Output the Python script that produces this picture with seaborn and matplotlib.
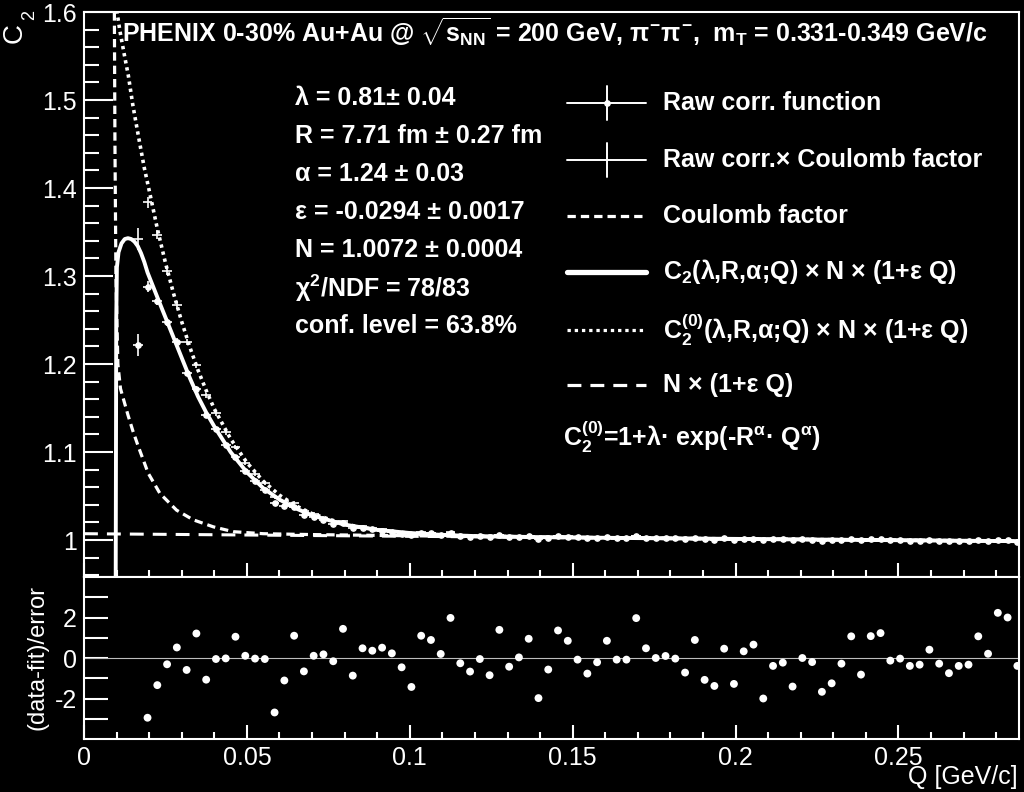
import numpy as np
import pandas as pd
import seaborn as sns
import matplotlib.pyplot as plt
from matplotlib.ticker import MultipleLocator, FixedLocator, FuncFormatter
from matplotlib.lines import Line2D

# bin centres [GeV/c], half bin width
q_bins = [0.0165, 0.0195, 0.0225, 0.0255, 0.0285, 0.0315, 0.0345, 0.0375, 0.0405, 0.0435,
          0.0465, 0.0495, 0.0525, 0.0555, 0.0585, 0.0615, 0.0645, 0.0675, 0.0705, 0.0735,
          0.0765, 0.0795, 0.0825, 0.0855, 0.0885, 0.0915, 0.0945, 0.0975, 0.1005, 0.1035,
          0.1065, 0.1095, 0.1125, 0.1155, 0.1185, 0.1215, 0.1245, 0.1275, 0.1305, 0.1335,
          0.1365, 0.1395, 0.1425, 0.1455, 0.1485, 0.1515, 0.1545, 0.1575, 0.1605, 0.1635,
          0.1665, 0.1695, 0.1725, 0.1755, 0.1785, 0.1815, 0.1845, 0.1875, 0.1905, 0.1935,
          0.1965, 0.1995, 0.2025, 0.2055, 0.2085, 0.2115, 0.2145, 0.2175, 0.2205, 0.2235,
          0.2265, 0.2295, 0.2325, 0.2355, 0.2385, 0.2415, 0.2445, 0.2475, 0.2505, 0.2535,
          0.2565, 0.2595, 0.2625, 0.2655, 0.2685, 0.2715, 0.2745, 0.2775, 0.2805, 0.2835,
          0.2865]
bin_half = 0.0015

# raw correlation function
raw_corr = [1.222, 1.288, 1.272, 1.248, 1.225, 1.1898, 1.1711, 1.1416, 1.1259, 1.1079,
            1.0938, 1.0783, 1.0669, 1.0569, 1.0421, 1.0387, 1.0372, 1.0287, 1.0262, 1.0223,
            1.0187, 1.0193, 1.0136, 1.0137, 1.0120, 1.0107, 1.0093, 1.0074, 1.0056, 1.0084,
            1.0076, 1.0062, 1.0079, 1.0048, 1.0040, 1.0044, 1.0035, 1.0055, 1.0035, 1.0037,
            1.0045, 1.0015, 1.0028, 1.0044, 1.0039, 1.0029, 1.0022, 1.0026, 1.0035, 1.0025,
            1.0024, 1.0041, 1.0027, 1.0022, 1.0022, 1.0020, 1.0013, 1.0025, 1.0008, 1.0005,
            1.0019, 1.0004, 1.0015, 1.0017, 0.9996, 1.0007, 1.0007, 0.9997, 1.0007, 1.0005,
            0.9993, 0.9995, 1.0001, 1.0009, 0.9995, 1.0008, 1.0008, 0.9997, 0.9997, 0.9993,
            0.9994, 0.9998, 0.9992, 0.9988, 0.9989, 0.9989, 0.9997, 0.9990, 1.0002, 1.0000,
            0.9983]

# raw correlation x Coulomb factor
coul_corr = [1.342, 1.384, 1.347, 1.306, 1.267, 1.225, 1.199, 1.1644, 1.1439, 1.1223,
             1.1058, 1.0880, 1.0754, 1.0643, 1.0484, 1.0439, 1.0419, 1.0328, 1.0298, 1.0254,
             1.0215, 1.0217, 1.0157, 1.0155, 1.0136, 1.0121, 1.0105, 1.0084, 1.0065, 1.0093,
             1.0084, 1.0070, 1.0087, 1.0055, 1.0047, 1.0051, 1.0041, 1.0061, 1.0041, 1.0043,
             1.0050, 1.0020, 1.0033, 1.0049, 1.0044, 1.0033, 1.0026, 1.0030, 1.0039, 1.0029,
             1.0028, 1.0045, 1.0030, 1.0025, 1.0025, 1.0023, 1.0016, 1.0028, 1.0011, 1.0008,
             1.0022, 1.0007, 1.0017, 1.0019, 0.9998, 1.0009, 1.0009, 0.9999, 1.0009, 1.0007,
             0.9995, 0.9997, 1.0003, 1.0011, 0.9997, 1.0010, 1.0010, 0.9999, 0.9999, 0.9995,
             0.9996, 0.9999, 0.9993, 0.9989, 0.9990, 0.9990, 0.9998, 0.9991, 1.0003, 1.0001,
             0.9984]

corr_err = [0.0125, 0.0062, 0.0052, 0.0046, 0.0041, 0.0037, 0.0034, 0.0032, 0.0030, 0.0028,
            0.0027, 0.0025, 0.0024, 0.0023, 0.0022, 0.0021, 0.0020, 0.0019, 0.0018, 0.0018,
            0.0017, 0.0016, 0.0016, 0.0015, 0.0015, 0.0014, 0.0014, 0.0013, 0.0013, 0.0013,
            0.0012, 0.0012, 0.0012, 0.0011, 0.0011, 0.0011, 0.0010, 0.0010, 0.0010, 0.0010,
            0.0010, 0.00095, 0.00095, 0.0009, 0.0009, 0.0009, 0.0009, 0.0009, 0.0009, 0.0009,
            0.0009, 0.00085, 0.00085, 0.00085, 0.00085, 0.00085, 0.0008, 0.0008, 0.0008, 0.0008,
            0.0008, 0.0008, 0.00075, 0.00075, 0.00075, 0.00075, 0.00075, 0.00075, 0.00075, 0.00075,
            0.00075, 0.00075, 0.0007, 0.0007, 0.0007, 0.0007, 0.0007, 0.0007, 0.0007, 0.0007,
            0.0007, 0.0007, 0.0007, 0.0007, 0.0007, 0.00065, 0.00065, 0.00065, 0.00065, 0.00065,
            0.00065]

# (data-fit)/error, fit range starts at the 2nd bin
residuals = [-2.95, -1.34, -0.31, 0.52, -0.59, 1.21, -1.07, -0.05, -0.02, 1.05,
             0.11, -0.03, -0.05, -2.69, -1.11, 1.10, -0.66, 0.11, 0.18, -0.16,
             1.44, -0.87, 0.48, 0.36, 0.51, 0.23, -0.46, -1.43, 1.10, 0.89,
             0.20, 1.98, -0.26, -0.67, -0.05, -0.85, 1.39, -0.43, 0.03, 0.95,
             -1.98, -0.57, 1.36, 0.85, -0.08, -0.77, -0.21, 0.85, -0.08, -0.08,
             1.97, 0.48, 0.00, 0.10, -0.03, -0.72, 0.89, -1.08, -1.38, 0.46,
             -1.28, 0.33, 0.66, -2.00, -0.39, -0.23, -1.41, 0.00, -0.20, -1.67,
             -1.25, -0.28, 1.07, -0.82, 1.08, 1.23, -0.13, -0.03, -0.39, -0.33,
             0.41, -0.28, -0.75, -0.39, -0.33, 1.07, 0.21, 2.23, 2.00, -0.39]

# fit C2(lambda,R,alpha;Q) x N x (1+eps Q)
fit_q = [0.0097, 0.0099, 0.0101, 0.0106, 0.0115, 0.0125, 0.0135, 0.0145, 0.0155, 0.0165,
         0.0175, 0.0185, 0.0195, 0.021, 0.0225, 0.025, 0.0275, 0.030, 0.0325, 0.035,
         0.0375, 0.040, 0.045, 0.050, 0.055, 0.060, 0.065, 0.070, 0.080, 0.090,
         0.100, 0.110, 0.120, 0.140, 0.170, 0.200, 0.250, 0.287]
fit_c2 = [0.90, 1.25, 1.31, 1.327, 1.337, 1.342, 1.343, 1.342, 1.339, 1.334,
          1.326, 1.316, 1.304, 1.290, 1.276, 1.253, 1.230, 1.207, 1.184, 1.163,
          1.145, 1.129, 1.100, 1.077, 1.059, 1.046, 1.036, 1.028, 1.0175, 1.0115,
          1.0080, 1.0058, 1.0045, 1.0033, 1.0022, 1.0013, 0.9998, 0.9987]

# C2^(0) x N x (1+eps Q)
fit0_q = [0.0098, 0.0100, 0.0110, 0.0125, 0.0136, 0.0150, 0.0167, 0.0185, 0.0202, 0.0225,
          0.025, 0.0275, 0.030, 0.0325, 0.035, 0.0375, 0.040, 0.045, 0.050, 0.055,
          0.060, 0.065, 0.070, 0.080, 0.090, 0.100, 0.110, 0.120, 0.140, 0.170,
          0.200, 0.250, 0.287]
fit0_c2 = [1.610, 1.603, 1.579, 1.549, 1.528, 1.494, 1.459, 1.423, 1.394, 1.354,
           1.315, 1.280, 1.248, 1.219, 1.193, 1.170, 1.149, 1.115, 1.088, 1.067,
           1.051, 1.039, 1.030, 1.018, 1.0115, 1.0078, 1.0057, 1.0046, 1.0033, 1.0022,
           1.0013, 0.9998, 0.9987]

# Coulomb factor
coul_q = [0.0092, 0.0095, 0.0098, 0.0104, 0.0112, 0.0135, 0.0150, 0.0167, 0.0197, 0.0233,
          0.0284, 0.0335, 0.0397, 0.0458, 0.055, 0.070, 0.090, 0.120, 0.150, 0.200,
          0.250, 0.287]
coul_c = [1.70, 1.45, 1.30, 1.20, 1.172, 1.142, 1.124, 1.106, 1.076, 1.053,
          1.034, 1.023, 1.015, 1.0095, 1.0072, 1.0062, 1.0053, 1.0040, 1.0030, 1.0013,
          0.9998, 0.9987]

# N x (1+eps Q)
base_q = [0.0, 0.287]
base_c = [1.0072, 0.9987]

params = ["\u03bb = 0.81\u00b1 0.04", "R = 7.71 fm \u00b1 0.27 fm", "\u03b1 = 1.24 \u00b1 0.03",
          "\u03b5 = -0.0294 \u00b1 0.0017", "N = 1.0072 \u00b1 0.0004",
          "\u03c7$^{2}$/NDF = 78/83", "conf. level = 63.8%"]

sns.set_theme(style="ticks")
plt.rcParams.update({
    'font.family': ['Liberation Sans', 'DejaVu Sans'],
    'figure.facecolor': 'black', 'axes.facecolor': 'black', 'savefig.facecolor': 'black',
    'axes.edgecolor': 'white', 'axes.linewidth': 1.5,
    'text.color': 'white', 'xtick.color': 'white', 'ytick.color': 'white',
    'mathtext.fontset': 'custom', 'mathtext.rm': 'Liberation Sans:bold',
    'mathtext.it': 'Liberation Sans:bold', 'mathtext.bf': 'Liberation Sans:bold',
    'lines.scale_dashes': False,
})

W, H = 1024, 792
def fx(x): return x / W
def fy(y): return 1 - y / H

fig = plt.figure(figsize=(10.24, 7.92), dpi=100)
ax1 = fig.add_axes([fx(84), fy(577), fx(1019) - fx(84), fy(12) - fy(577)])
ax2 = fig.add_axes([fx(84), fy(739), fx(1019) - fx(84), fy(577) - fy(739)])

dash_coul = (0, (6.0, 3.6))
dash_base = (0, (10.0, 6.5))
dot_fit0 = (0, (2.4, 2.8))

# curves
sns.lineplot(x=base_q, y=base_c, ax=ax1, color='white', linewidth=2.2, linestyle=dash_base, legend=False)
sns.lineplot(x=coul_q, y=coul_c, ax=ax1, color='white', linewidth=2.3, linestyle=dash_coul, legend=False)
sns.lineplot(x=fit0_q, y=fit0_c2, ax=ax1, color='white', linewidth=2.6, linestyle=dot_fit0, legend=False)
sns.lineplot(x=fit_q, y=fit_c2, ax=ax1, color='white', linewidth=2.8, legend=False)

# data points
ax1.errorbar(q_bins, coul_corr, yerr=corr_err, xerr=bin_half, fmt='none', ecolor='white',
             elinewidth=1.2, capsize=0, zorder=5)
ax1.errorbar(q_bins, raw_corr, yerr=corr_err, xerr=bin_half, fmt='o', color='white', ms=3.8,
             elinewidth=1.2, capsize=0, zorder=6)

ax1.set_xlim(0, 0.287)
ax1.set_ylim(0.958, 1.6)
ax1.xaxis.set_major_locator(MultipleLocator(0.05))
ax1.xaxis.set_minor_locator(MultipleLocator(0.01))
ax1.yaxis.set_major_locator(MultipleLocator(0.1))
ax1.yaxis.set_minor_locator(MultipleLocator(0.02))
ax1.yaxis.set_major_formatter(FuncFormatter(lambda v, p: f'{v:g}'))
ax1.tick_params(axis='y', which='major', direction='in', length=21, width=1.5, labelsize=18, pad=5)
ax1.tick_params(axis='y', which='minor', direction='in', length=11, width=1.5)
ax1.tick_params(axis='x', which='major', direction='in', length=10, width=1.5, labelbottom=False)
ax1.tick_params(axis='x', which='minor', direction='in', length=5, width=1.5)
ax1.set_xlabel('')
ax1.set_ylabel('')

# residual panel
ax2.axhline(0, color='#bdbdbd', lw=0.8, zorder=1)
sns.scatterplot(x=q_bins[1:], y=residuals, ax=ax2, color='white', s=32, edgecolor='none',
                zorder=5, legend=False)
ax2.set_xlim(0, 0.287)
ax2.set_ylim(-4, 4)
ax2.xaxis.set_major_locator(MultipleLocator(0.05))
ax2.xaxis.set_minor_locator(MultipleLocator(0.01))
ax2.xaxis.set_major_formatter(FuncFormatter(lambda v, p: f'{v:g}'))
ax2.yaxis.set_major_locator(FixedLocator([-2, 0, 2]))
ax2.yaxis.set_minor_locator(FixedLocator([-3, -1, 1, 3]))
ax2.yaxis.set_major_formatter(FuncFormatter(lambda v, p: f'{v:g}'))
ax2.tick_params(axis='y', which='both', direction='in', length=17, width=1.5, labelsize=18, pad=5)
ax2.tick_params(axis='x', which='major', direction='in', length=10, width=1.5, labelsize=18, pad=5)
ax2.tick_params(axis='x', which='minor', direction='in', length=5, width=1.5)
ax2.set_xlabel('')
ax2.set_ylabel('')

# axis titles
fig.text(fx(1018), fy(777), 'Q [GeV/c]', ha='right', va='center', fontsize=18)
fig.text(fx(37), fy(657), '(data-fit)/error', rotation=90, ha='center', va='center', fontsize=17)
fig.text(fx(15), fy(33), 'C', rotation=90, ha='center', va='center', fontsize=20)
fig.text(fx(30), fy(15), '2', rotation=90, ha='center', va='center', fontsize=13)

title = ("PHENIX 0-30% Au+Au @ $\\sqrt{s_{NN}}$ = 200 GeV, $\\pi^{-}\\pi^{-}$,  "
         "m$_{T}$ = 0.331-0.349 GeV/c")
fig.text(fx(122), fy(32), title, ha='left', va='center', fontsize=18, fontweight='bold')

for i, s in enumerate(params):
    fig.text(fx(295), fy(98 + i * 38), s, ha='left', va='center', fontsize=18, fontweight='bold')

# legend
leg_y = [103, 160, 216, 272, 330, 385]
leg_txt = ["Raw corr. function", "Raw corr.\u00d7 Coulomb factor", "Coulomb factor",
           "C$_{2}$(\u03bb,R,\u03b1;Q) \u00d7 N \u00d7 (1+\u03b5 Q)",
           "C$_{2}^{(0)}$(\u03bb,R,\u03b1;Q) \u00d7 N \u00d7 (1+\u03b5 Q)",
           "N \u00d7 (1+\u03b5 Q)"]
x0, x1, xm = fx(567), fx(646), fx(607)
for k in (0, 1):
    fig.add_artist(Line2D([x0, x1], [fy(leg_y[k])] * 2, color='white', lw=1.4))
    fig.add_artist(Line2D([xm, xm], [fy(leg_y[k] - 17), fy(leg_y[k] + 17)], color='white', lw=1.4))
fig.add_artist(Line2D([xm], [fy(leg_y[0])], marker='o', ms=3.8, color='white'))
fig.add_artist(Line2D([x0, x1], [fy(leg_y[2])] * 2, color='white', lw=2.3, linestyle=dash_coul))
fig.add_artist(Line2D([x0, x1], [fy(leg_y[3])] * 2, color='white', lw=3.8))
fig.add_artist(Line2D([x0, x1], [fy(leg_y[4])] * 2, color='white', lw=2.3, linestyle=dot_fit0))
fig.add_artist(Line2D([x0, x1], [fy(leg_y[5])] * 2, color='white', lw=2.3, linestyle=dash_base))
for y, s in zip(leg_y, leg_txt):
    fig.text(fx(663), fy(y), s, ha='left', va='center', fontsize=18, fontweight='bold')
fig.text(fx(563), fy(437), "C$_{2}^{(0)}$=1+\u03bb\u00b7 exp(-R$^{\\alpha}$\u00b7 Q$^{\\alpha}$)",
         ha='left', va='center', fontsize=18, fontweight='bold')

fig.savefig('out.png', dpi=100)
